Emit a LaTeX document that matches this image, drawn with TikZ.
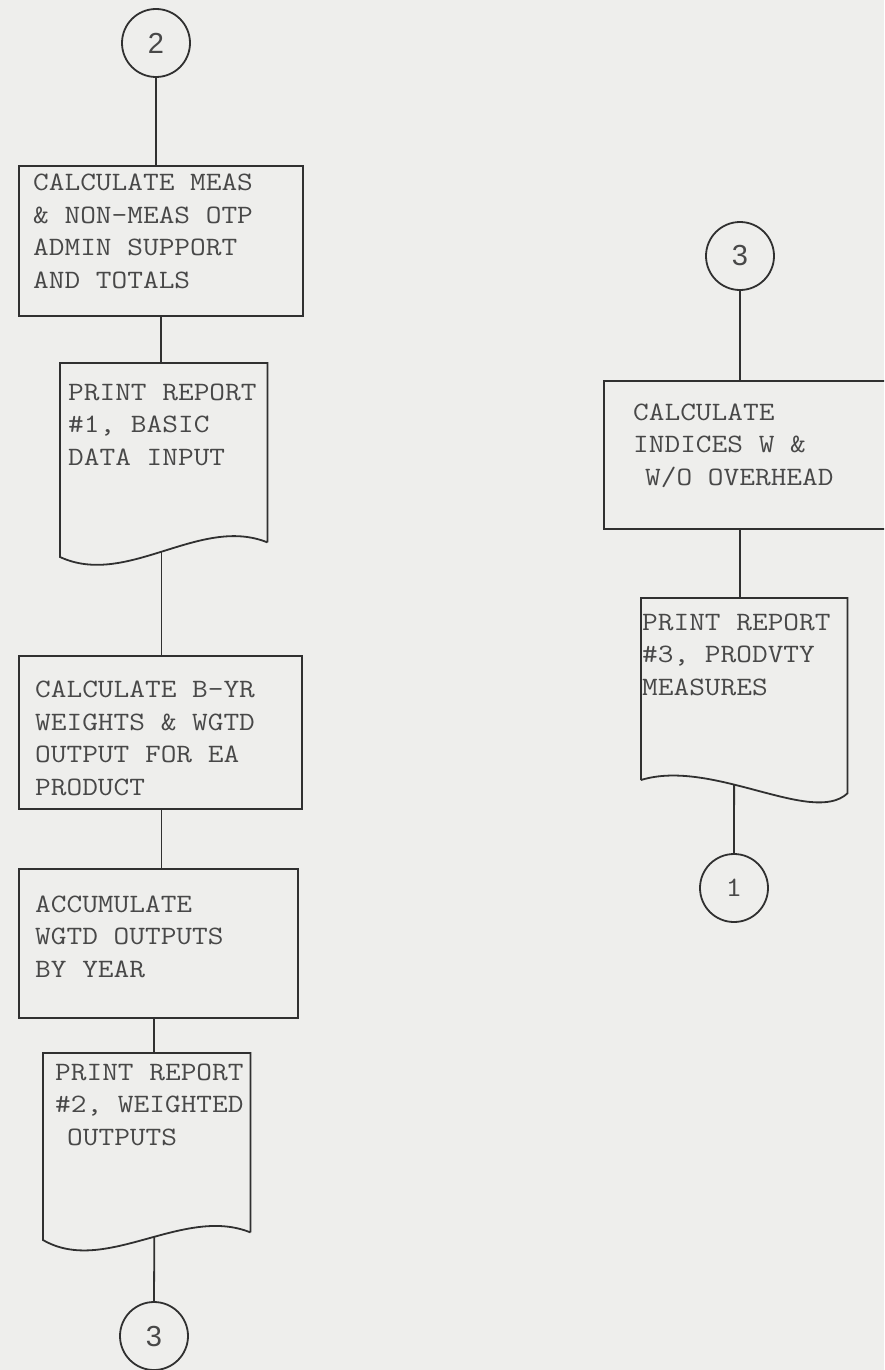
\documentclass[tikz,border=0pt]{standalone}
\usepackage{fontspec}
\setmonofont{Latin Modern Mono}[FakeStretch=1.15]
\newcommand\typer{\ttfamily}
\newfontfamily\digitsans{Liberation Sans}
\definecolor{paper}{RGB}{238,238,236}
\definecolor{ink}{RGB}{48,48,48}
\definecolor{typeink}{RGB}{72,72,72}
\begin{document}
\begin{tikzpicture}[x=1pt,y=-1pt,
  stroke/.style={draw=ink, line width=1.8pt},
  procbox/.style={stroke, rectangle, inner sep=0pt, anchor=north west},
  connector/.style={stroke, circle, minimum size=68pt, inner sep=0pt,
    font=\digitsans\fontsize{29}{29}\selectfont, text=typeink},
  % multi-line text is placed by the baseline of its last line
  typed/.style={inner sep=0pt, anchor=base west, align=left, text=typeink,
    font=\typer\fontsize{26.5}{32.5}\selectfont},
  flow/.style={stroke}]
% page
\clip (0,0) rectangle (884,1370);
\fill[paper] (0,0) rectangle (884,1370);

% ---------------- left column ----------------
\node[connector] (c2) at (156,43) {2};

\node[procbox, minimum width=284pt, minimum height=150pt] (b1) at (18,165) {};
\node[typed] (t1) at (33,288) {CALCULATE MEAS\\\& NON-MEAS OTP\\ADMIN SUPPORT\\AND TOTALS};

% report #1 (document symbol)
\node[inner sep=0pt, minimum width=207pt, minimum height=179pt, anchor=north west] (d1) at (60,363) {};
\draw[stroke] (d1.south east) -- (d1.north east) -- (d1.north west) -- (60,557)
  .. controls (127,588) and (200,515) .. coordinate[pos=0.49] (d1b) (d1.south east);
\node[typed] (t2) at (68,465) {PRINT REPORT\\\#1, BASIC\\DATA INPUT};

\node[procbox, minimum width=283pt, minimum height=153pt] (b2) at (18,655) {};
\node[typed] (t3) at (35,795) {CALCULATE B-YR\\WEIGHTS \& WGTD\\OUTPUT FOR EA\\PRODUCT};

\node[procbox, minimum width=279pt, minimum height=149pt] (b3) at (18,868) {};
\node[typed] (t4) at (35,977) {ACCUMULATE\\WGTD OUTPUTS\\BY YEAR};

% report #2
\node[inner sep=0pt, minimum width=207pt, minimum height=179pt, anchor=north west] (d2) at (43,1053) {};
\draw[stroke] (d2.south east) -- (d2.north east) -- (d2.north west) -- (43,1240)
  .. controls (105,1276) and (183,1205) .. coordinate[pos=0.545] (d2b) (d2.south east);
\node[typed] (t5) at (55,1145) {PRINT REPORT\\\#2, WEIGHTED\\\hspace*{12pt}OUTPUTS};

\node[connector] (c3a) at (154,1336) {3};

% ---------------- right column ----------------
\node[connector] (c3b) at (740,256) {3};

\node[procbox, minimum width=320pt, minimum height=148pt] (b4) at (603,380) {};
\node[typed] (t6) at (633,485) {CALCULATE\\INDICES W \&\\\hspace*{12pt}W/O OVERHEAD};

% report #3
\node[inner sep=0pt, minimum width=206pt, minimum height=195pt, anchor=north west] (d3) at (641,598) {};
\draw[stroke] (641,780) -- (d3.north west) -- (d3.north east) -- (d3.south east)
  .. controls (812,826) and (712,758) .. coordinate[pos=0.6] (d3b) (641,780);
\node[typed] (t7) at (642,695) {PRINT REPORT\\\#3, PRODVTY\\MEASURES};

\node[connector, font=\typer\fontsize{28}{28}\selectfont] (c1) at (734,888) {1};

% ---------------- flow lines ----------------
\draw[flow] (c2.south) -- (c2.south |- b1.north);
\draw[flow] (b1.south) -- (b1.south |- d1.north);
\draw[flow] (d1b) -- (d1b |- b2.north);
\draw[flow] (b2.south -| d1b) -- (b3.north -| d1b);
\draw[flow] (b3.south -| d2b) -- (d2b |- d2.north);
\draw[flow] (d2b) -- (c3a.north);
\draw[flow] (c3b.south) -- (c3b.south |- b4.north);
\draw[flow] (b4.south -| c3b) -- (d3.north -| c3b);
\draw[flow] (d3b) -- (c1.north);
\end{tikzpicture}
\end{document}
